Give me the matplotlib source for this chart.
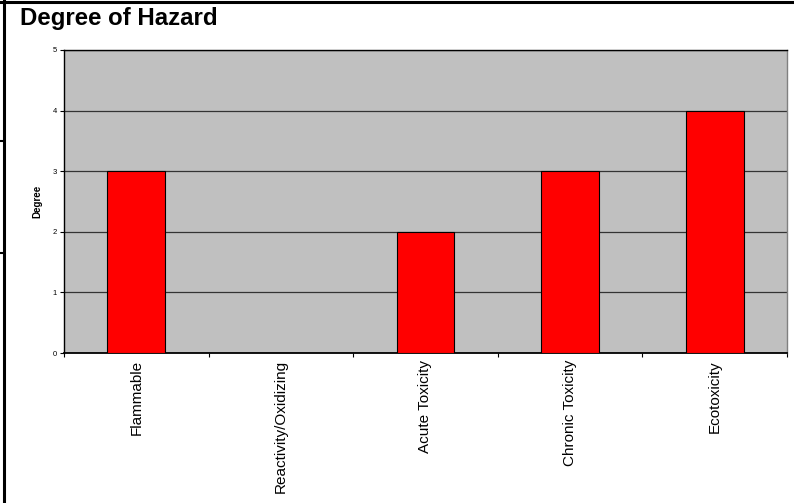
import matplotlib
matplotlib.use("Agg")
import matplotlib.pyplot as plt
from matplotlib.lines import Line2D

categories = ["Flammable", "Reactivity/Oxidizing", "Acute Toxicity", "Chronic Toxicity", "Ecotoxicity"]
values = [3, 0, 2, 3, 4]
yticks = [0, 1, 2, 3, 4, 5]

plt.rcParams['font.family'] = ['Liberation Sans', 'DejaVu Sans']

W, H = 794, 503
fig = plt.figure(figsize=(W / 100, H / 100), dpi=100)

left, right, top, bottom = 64, 787, 50, 353
ax = fig.add_axes([left / W, 1 - bottom / H, (right - left) / W, (bottom - top) / H])
ax.set_facecolor('#C0C0C0')

x = list(range(len(categories)))
ax.bar(x, values, width=0.4, color='#FF0000', edgecolor='#000000', linewidth=0.8, zorder=3)
ax.set_xlim(-0.5, len(categories) - 0.5)
ax.set_ylim(0, 5)
ax.set_yticks(yticks)
ax.set_yticklabels([str(t) for t in yticks], fontsize=5.5)
ax.yaxis.grid(True, color='#333333', linewidth=0.9, zorder=1)
ax.set_axisbelow(True)

ax.set_xticks(x)
ax.set_xticklabels(categories, rotation=90, fontsize=11, va='top')
ax.tick_params(axis='x', length=0, pad=5)
# category boundary ticks
ax.set_xticks([i - 0.5 for i in range(len(categories) + 1)], minor=True)
ax.tick_params(axis='x', which='minor', length=3, width=0.8, direction='out', color='#000000')
ax.tick_params(axis='y', length=3, width=0.8, direction='out', pad=2)

for s in ['left', 'bottom', 'top']:
    ax.spines[s].set_color('#000000')
ax.spines['left'].set_linewidth(1.0)
ax.spines['bottom'].set_linewidth(1.3)
ax.spines['top'].set_linewidth(1.0)
ax.spines['right'].set_color('#808080')
ax.spines['right'].set_linewidth(1.0)

ax.set_ylabel('Degree', fontsize=7, fontweight='bold')
ax.yaxis.set_label_coords(-22 / (right - left), 0.5)

fig.text(20 / W, 1 - 19 / H, 'Degree of Hazard', fontsize=17.3, fontweight='bold', va='center', ha='left')

# outer frame lines
fig.add_artist(Line2D([4 / W, 4 / W], [0, 1], color='black', linewidth=2.2, transform=fig.transFigure))
fig.add_artist(Line2D([0, 1], [1 - 2 / H, 1 - 2 / H], color='black', linewidth=2.2, transform=fig.transFigure))
for yp in [141, 253]:
    fig.add_artist(Line2D([0, 4 / W], [1 - yp / H, 1 - yp / H], color='black', linewidth=1.5, transform=fig.transFigure))

fig.savefig('out.png', dpi=100)
